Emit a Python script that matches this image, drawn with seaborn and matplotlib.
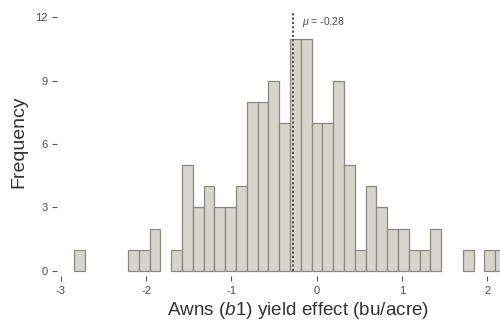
import numpy as np
import pandas as pd
import seaborn as sns
import matplotlib.pyplot as plt

# histogram counts, one per bin
bin_start = -2.845
bin_width = 0.1266
counts = [1, 0, 0, 0, 0, 1, 1, 2, 0, 1,
          5, 3, 4, 3, 3, 4, 8, 8, 9, 7,
          11, 11, 7, 7, 9, 5, 1, 4, 3, 2,
          2, 1, 1, 2, 0, 0, 1, 0, 1, 1]
mean_effect = -0.28
x_ticks = [-3, -2, -1, 0, 1, 2]
y_ticks = [0, 3, 6, 9, 12]

edges = bin_start + bin_width * np.arange(len(counts) + 1)
centers = (edges[:-1] + edges[1:]) / 2
df = pd.DataFrame({'effect': centers, 'n': counts})

sns.set_style('white')
plt.rcParams['font.family'] = ['Liberation Sans', 'DejaVu Sans']
plt.rcParams['mathtext.fontset'] = 'custom'
plt.rcParams['mathtext.rm'] = 'Liberation Sans'
plt.rcParams['mathtext.it'] = 'Liberation Sans:italic'

fig = plt.figure(figsize=(5, 3.24), dpi=100)
ax = fig.add_axes([57 / 500, 48 / 324, 443 / 500, 263 / 324])

sns.histplot(data=df, x='effect', weights='n', bins=edges.tolist(), ax=ax,
             color='#d5d5cd', edgecolor='#8a8a7e', linewidth=0.9, alpha=1)
# empty bins should not leave a line on the baseline
for p in ax.patches:
    if p.get_height() == 0:
        p.set_visible(False)

ax.plot([mean_effect, mean_effect], [0, 12.2], color='#444444',
        linestyle=(0, (1.2, 1.2)), linewidth=1.3)
ax.text(mean_effect + 0.11, 11.78, r'$\mu$ = -0.28', fontsize=7.5,
        color='#4d4d4d', ha='left', va='center')

ax.set_xlim(-3.045, 2.149)
ax.set_ylim(-0.25, 12.21)
ax.set_xticks(x_ticks)
ax.set_yticks(y_ticks)
ax.set_xticklabels([str(t) for t in x_ticks])
ax.set_yticklabels([str(t) for t in y_ticks])
ax.tick_params(axis='both', direction='out', length=3.5, width=0.8,
               color='#555555', labelcolor='#4d4d4d', labelsize=8,
               bottom=True, left=True)
ax.tick_params(axis='x', pad=3.5)
ax.tick_params(axis='y', pad=3)
for s in ax.spines.values():
    s.set_visible(False)

ax.set_xlabel('Awns ($\\it{b1}$) yield effect (bu/acre)', fontsize=13.6, color='#333333')
ax.set_ylabel('Frequency', fontsize=14, color='#333333')
ax.xaxis.set_label_coords((298.5 - 57) / 443, -(300 - 276) / 263)
ax.yaxis.set_label_coords(-(57 - 27) / 443, 0.51)
ax.grid(False)

fig.savefig('out.png', dpi=100)
